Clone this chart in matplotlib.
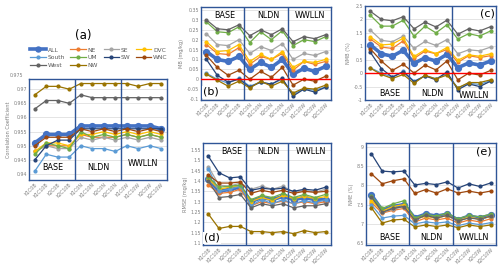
import matplotlib
matplotlib.use("Agg")
import matplotlib.pyplot as plt

# ---- data -----------------------------------------------------------------
runs = ["K1C0B", "K1C10B", "K2C0B", "K2C10B",
        "K1C0N", "K1C10N", "K2C0N", "K2C10N",
        "K1C0W", "K1C10W", "K2C0W", "K2C10W"]
regions = ["ALL", "NE", "SE", "DVC", "South", "UM", "SW", "WNC", "West", "NW"]
colors = ["#4472C4", "#ED7D31", "#A5A5A5", "#FFC000", "#5B9BD5",
          "#70AD47", "#264478", "#9E480E", "#636363", "#997300"]

corr = {
    "ALL":   [0.951, 0.954, 0.954, 0.954, 0.957, 0.957, 0.957, 0.957, 0.957, 0.957, 0.957, 0.956],
    "NE":    [0.948, 0.950, 0.950, 0.950, 0.954, 0.953, 0.953, 0.953, 0.954, 0.953, 0.954, 0.953],
    "SE":    [0.948, 0.950, 0.949, 0.949, 0.953, 0.952, 0.953, 0.952, 0.953, 0.952, 0.953, 0.952],
    "DVC":   [0.948, 0.951, 0.951, 0.950, 0.954, 0.954, 0.955, 0.954, 0.955, 0.954, 0.955, 0.954],
    "South": [0.941, 0.947, 0.946, 0.946, 0.950, 0.949, 0.949, 0.948, 0.950, 0.949, 0.950, 0.949],
    "UM":    [0.947, 0.951, 0.950, 0.949, 0.955, 0.953, 0.954, 0.953, 0.954, 0.953, 0.954, 0.953],
    "SW":    [0.945, 0.950, 0.952, 0.952, 0.956, 0.956, 0.956, 0.956, 0.956, 0.956, 0.956, 0.956],
    "WNC":   [0.950, 0.953, 0.953, 0.953, 0.956, 0.955, 0.956, 0.955, 0.956, 0.955, 0.956, 0.955],
    "West":  [0.963, 0.966, 0.966, 0.965, 0.968, 0.967, 0.967, 0.967, 0.967, 0.967, 0.967, 0.967],
    "NW":    [0.968, 0.971, 0.971, 0.970, 0.972, 0.972, 0.972, 0.972, 0.972, 0.971, 0.972, 0.972],
}
mb = {
    "ALL":   [0.14, 0.10, 0.09, 0.115, 0.05, 0.085, 0.06, 0.10, 0.025, 0.055, 0.04, 0.065],
    "NE":    [0.175, 0.13, 0.125, 0.16, 0.075, 0.115, 0.10, 0.13, 0.045, 0.09, 0.075, 0.09],
    "SE":    [0.23, 0.175, 0.17, 0.20, 0.13, 0.165, 0.145, 0.18, 0.10, 0.13, 0.12, 0.14],
    "DVC":   [0.19, 0.14, 0.145, 0.175, 0.09, 0.125, 0.10, 0.14, 0.06, 0.09, 0.085, 0.10],
    "South": [0.03, 0.0, -0.02, 0.005, -0.035, -0.015, -0.025, 0.0, -0.075, -0.05, -0.055, -0.04],
    "UM":    [0.29, 0.24, 0.235, 0.265, 0.185, 0.24, 0.20, 0.245, 0.17, 0.20, 0.19, 0.215],
    "SW":    [0.10, 0.02, -0.015, 0.0, -0.04, -0.015, -0.025, 0.005, -0.085, -0.05, -0.065, -0.04],
    "WNC":   [0.12, 0.06, 0.02, 0.045, 0.0, 0.04, 0.01, 0.06, -0.03, 0.0, -0.01, 0.015],
    "West":  [0.30, 0.255, 0.25, 0.275, 0.22, 0.25, 0.225, 0.255, 0.19, 0.215, 0.205, 0.225],
    "NW":    [0.025, -0.005, -0.035, -0.01, -0.045, -0.01, -0.035, -0.01, -0.07, -0.045, -0.05, -0.03],
}
nmb = {
    "ALL":   [1.05, 0.72, 0.63, 0.85, 0.37, 0.57, 0.45, 0.70, 0.20, 0.38, 0.30, 0.45],
    "NE":    [1.27, 0.97, 0.92, 1.20, 0.55, 0.82, 0.72, 0.88, 0.40, 0.65, 0.58, 0.65],
    "SE":    [1.60, 1.22, 1.17, 1.38, 0.92, 1.18, 1.03, 1.25, 0.72, 0.87, 0.83, 0.97],
    "DVC":   [1.35, 1.05, 1.08, 1.30, 0.62, 0.87, 0.73, 0.95, 0.48, 0.68, 0.63, 0.72],
    "South": [0.20, 0.0, -0.15, 0.07, -0.30, -0.10, -0.20, -0.02, -0.55, -0.38, -0.42, -0.28],
    "UM":    [2.15, 1.75, 1.75, 1.97, 1.37, 1.75, 1.50, 1.80, 1.27, 1.47, 1.38, 1.57],
    "SW":    [0.77, 0.17, -0.15, 0.05, -0.32, -0.10, -0.25, 0.05, -0.62, -0.40, -0.50, -0.30],
    "WNC":   [0.90, 0.45, 0.10, 0.33, 0.0, 0.30, 0.12, 0.45, -0.25, 0.0, -0.07, 0.10],
    "West":  [2.30, 2.00, 1.95, 2.10, 1.65, 1.90, 1.72, 1.97, 1.45, 1.65, 1.57, 1.73],
    "NW":    [0.18, -0.05, -0.20, -0.05, -0.38, -0.08, -0.22, -0.07, -0.55, -0.35, -0.35, -0.25],
}
rmse = {
    "ALL":   [1.41, 1.35, 1.36, 1.37, 1.30, 1.32, 1.31, 1.325, 1.31, 1.32, 1.31, 1.31],
    "NE":    [1.38, 1.34, 1.345, 1.36, 1.28, 1.30, 1.29, 1.305, 1.29, 1.30, 1.29, 1.30],
    "SE":    [1.47, 1.38, 1.375, 1.39, 1.36, 1.375, 1.36, 1.375, 1.345, 1.355, 1.345, 1.36],
    "DVC":   [1.41, 1.36, 1.37, 1.375, 1.30, 1.32, 1.305, 1.33, 1.315, 1.325, 1.315, 1.325],
    "South": [1.46, 1.35, 1.36, 1.375, 1.28, 1.31, 1.29, 1.31, 1.29, 1.305, 1.295, 1.31],
    "UM":    [1.42, 1.37, 1.375, 1.38, 1.31, 1.33, 1.32, 1.34, 1.32, 1.335, 1.32, 1.335],
    "SW":    [1.52, 1.44, 1.415, 1.42, 1.355, 1.365, 1.36, 1.365, 1.35, 1.36, 1.355, 1.37],
    "WNC":   [1.43, 1.39, 1.39, 1.395, 1.34, 1.355, 1.345, 1.355, 1.34, 1.35, 1.345, 1.35],
    "West":  [1.40, 1.32, 1.325, 1.335, 1.27, 1.29, 1.28, 1.29, 1.27, 1.28, 1.28, 1.29],
    "NW":    [1.24, 1.17, 1.18, 1.18, 1.155, 1.155, 1.15, 1.155, 1.145, 1.16, 1.15, 1.155],
}
nme = {
    "ALL":   [7.75, 7.35, 7.45, 7.50, 7.15, 7.25, 7.20, 7.25, 7.10, 7.20, 7.15, 7.22],
    "NE":    [7.55, 7.28, 7.35, 7.40, 7.05, 7.15, 7.10, 7.15, 7.02, 7.10, 7.05, 7.13],
    "SE":    [7.65, 7.30, 7.38, 7.45, 7.12, 7.20, 7.15, 7.22, 7.08, 7.18, 7.12, 7.20],
    "DVC":   [7.60, 7.33, 7.45, 7.50, 7.12, 7.20, 7.15, 7.22, 7.08, 7.17, 7.12, 7.20],
    "South": [7.50, 7.15, 7.20, 7.22, 7.00, 7.05, 7.02, 7.05, 6.95, 7.02, 6.98, 7.03],
    "UM":    [7.72, 7.40, 7.52, 7.60, 7.15, 7.25, 7.20, 7.28, 7.13, 7.22, 7.18, 7.25],
    "SW":    [8.82, 8.37, 8.35, 8.37, 8.01, 8.05, 8.02, 8.09, 7.93, 8.04, 7.97, 8.06],
    "WNC":   [8.30, 8.04, 8.12, 8.17, 7.79, 7.89, 7.80, 7.91, 7.80, 7.85, 7.80, 7.85],
    "West":  [7.70, 7.30, 7.40, 7.45, 7.10, 7.22, 7.15, 7.22, 7.08, 7.15, 7.12, 7.20],
    "NW":    [7.42, 7.02, 7.10, 7.12, 6.92, 6.97, 6.93, 6.97, 6.90, 6.97, 6.93, 6.97],
}
groups = ["BASE", "NLDN", "WWLLN"]

# ---- figure ---------------------------------------------------------------
W, H = 500, 269
fig = plt.figure(figsize=(W / 100, H / 100), dpi=100)
FRAME = "#2F5597"
TICKC = "#7F7F7F"


def box(x0, y0, x1, y1):
    # pixel box (top-left origin) -> figure fraction rect
    return [x0 / W, 1 - y1 / H, (x1 - x0) / W, (y1 - y0) / H]


def label(px, py, text, size=5.8, **kw):
    fig.text(px / W, 1 - py / H, text, ha="center", va="center", fontsize=size, **kw)


def panel(rect, data, ylim, yticks, ylabel):
    ax = fig.add_axes(rect)
    x = list(range(len(runs)))
    for name, c in zip(regions, colors):
        big = name == "ALL"
        ax.plot(x, data[name], color=c, lw=2.6 if big else 0.9,
                marker="o", ms=4.2 if big else 2.0, zorder=2)
    ax.set_xlim(-0.5, len(runs) - 0.5)
    ax.set_ylim(*ylim)
    ax.set_yticks(yticks)
    ax.set_yticklabels([f"{v:g}" for v in yticks])
    ax.set_xticks(x)
    ax.set_xticklabels(runs, rotation=45, ha="right", rotation_mode="anchor")
    ax.tick_params(length=0, labelsize=3.4, colors=TICKC, pad=1.5)
    ax.grid(axis="y", color="#D9D9D9", lw=0.5)
    ax.set_axisbelow(True)
    for s in ax.spines.values():
        s.set_color(FRAME)
        s.set_linewidth(1.0)
    for xv in (3.5, 7.5):
        ax.axvline(xv, color=FRAME, lw=1.0, zorder=3)
    ax.set_ylabel(ylabel, fontsize=3.6, color=TICKC, labelpad=2)
    return ax


# (a)
ax_a = panel(box(29, 79, 167, 180), corr, (0.9379, 0.9736),
             [0.94, 0.945, 0.95, 0.955, 0.96, 0.965, 0.97],
             "Correlation Coefficient")
ax_a.text(-0.04, 0.975, "0.975", transform=ax_a.get_yaxis_transform(),
          ha="right", va="center", fontsize=3.4, color=TICKC, clip_on=False)
label(83, 35, "(a)", 8.5)
for (gx, gy), t in zip([(53, 167), (98, 167), (143, 164)], groups):
    label(gx, gy, t)

handles = [plt.Line2D([], [], color=c, lw=2.6 if n == "ALL" else 0.9, marker="o",
                      ms=3.6 if n == "ALL" else 2.0) for n, c in zip(regions, colors)]
order = [0, 4, 8, 1, 5, 9, 2, 6, 3, 7]
fig.legend([handles[i] for i in order], [regions[i] for i in order],
           ncol=4, loc="upper left", bbox_to_anchor=(28 / W, 1 - 45 / H),
           frameon=False, fontsize=4.3, labelcolor="#595959",
           handlelength=2.6, handletextpad=0.3, columnspacing=0.9,
           labelspacing=0.45, borderaxespad=0)

# (b)
ax_b = panel(box(201, 7, 331, 100), mb, (-0.105, 0.365),
             [-0.1, -0.05, 0, 0.05, 0.1, 0.15, 0.2, 0.25, 0.3, 0.35],
             "MB (mg/kg)")
ax_b.axhline(0, color="#FF0000", lw=1.0, zorder=4)
for gx, t in zip([225, 268, 310], groups):
    label(gx, 16, t)
label(211, 92, "(b)", 8, bbox=dict(facecolor="white", edgecolor="none", pad=0.5), zorder=10)

# (c)
ax_c = panel(box(365, 6, 496, 100), nmb, (-1, 2.5),
             [-1, -0.5, 0, 0.5, 1, 1.5, 2, 2.5], "NMB (%)")
ax_c.axhline(0, color="#FF0000", lw=1.0, zorder=4)
for (gx, gy), t in zip([(390, 93), (432, 94), (474, 96)], groups):
    label(gx, gy, t)
label(487, 14, "(c)", 8)

# (d)
ax_d = panel(box(203, 143, 331, 245), rmse, (1.09, 1.584),
             [1.1, 1.15, 1.2, 1.25, 1.3, 1.35, 1.4, 1.45, 1.5, 1.55],
             "RMSE (mg/kg)")
for gx, t in zip([232, 268, 311], groups):
    label(gx, 152, t)
label(212, 238, "(d)", 8, bbox=dict(facecolor="white", edgecolor="none", pad=0.5), zorder=10)

# (e)
ax_e = panel(box(366, 143, 496, 245), nme, (6.45, 9.1),
             [6.5, 7, 7.5, 8, 8.5, 9], "NME (%)")
for gx, t in zip([390, 431, 474], groups):
    label(gx, 238, t)
label(484, 152, "(e)", 8)

fig.savefig("out.png", dpi=100, facecolor="white")
